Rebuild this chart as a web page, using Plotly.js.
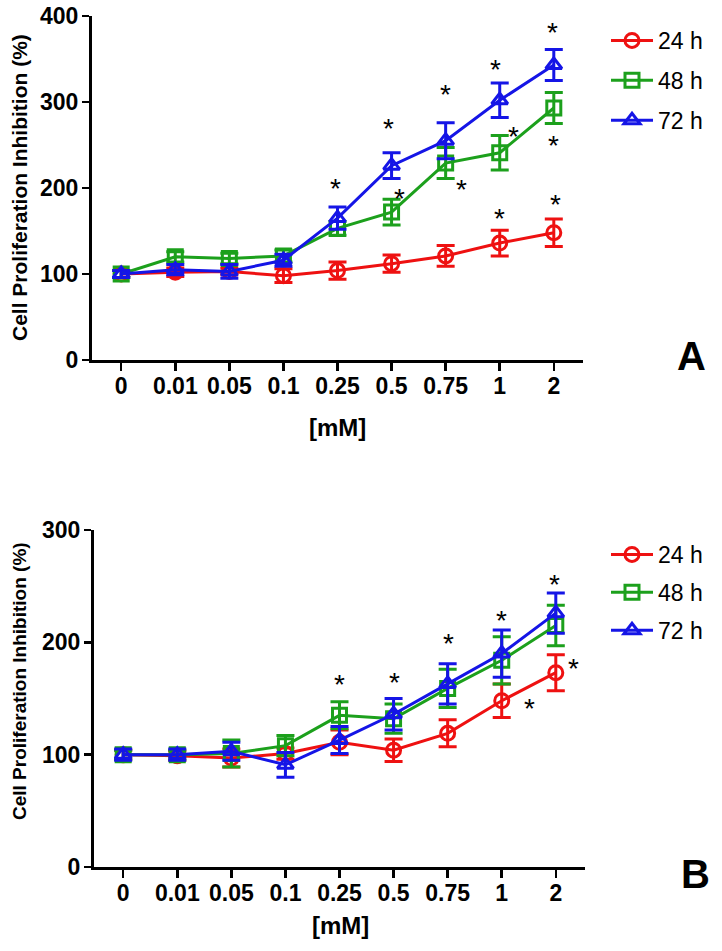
<!DOCTYPE html>
<html>
<head>
<meta charset="utf-8">
<script src="https://cdn.plot.ly/plotly-3.0.1.min.js"></script>
<style>html,body{margin:0;padding:0;background:#fff;}#chart{width:722px;height:951px;}</style>
</head>
<body>
<div id="chart"></div>
<script>
const doses = ['0', '0.01', '0.05', '0.1', '0.25', '0.5', '0.75', '1', '2'];
const seriesNames = ['24 h', '48 h', '72 h'];
const seriesColors = ['#ee1111', '#1ca01c', '#1515e6'];
const seriesSymbols = ['circle-open', 'square-open', 'triangle-up-open'];

// Panel A
const a24 = [100, 102, 103, 98, 104, 112, 121, 136, 148];
const a24err = [4, 5, 4, 8, 10, 10, 12, 15, 16];
const a48 = [100, 120, 118, 121, 153, 172, 229, 241, 293];
const a48err = [4, 6, 6, 7, 8, 15, 18, 20, 18];
const a72 = [100, 105, 103, 116, 165, 226, 255, 302, 343];
const a72err = [4, 6, 8, 7, 13, 15, 21, 20, 18];

// Panel B
const b24 = [100, 99, 97, 101, 111, 104, 119, 148, 173];
const b24err = [4, 4, 8, 5, 11, 10, 12, 15, 16];
const b48 = [100, 100, 101, 108, 135, 132, 159, 184, 215];
const b48err = [4, 4, 12, 9, 12, 13, 17, 21, 18];
const b72 = [100, 100, 103, 91, 113, 136, 163, 190, 226];
const b72err = [5, 5, 8, 11, 12, 14, 18, 21, 18];

// Significance asterisks (category index, value)
const starsAx = [3.96, 4.94, 5.14, 6.0, 6.3, 6.93, 7.26, 6.99, 7.97, 8.0, 8.04];
const starsAy = [206, 276, 195, 316, 205, 345, 267, 171, 388, 256, 188];
const starsBx = [4.0, 5.02, 6.01, 7.0, 7.52, 7.98, 8.33];
const starsBy = [168, 170, 204, 225, 146, 257, 182];

const yTitle = 'Cell Proliferation Inhibition (%)';
const xTitle = '[mM]';
const FONT = 'Liberation Sans, Arial, Helvetica, sans-serif';
const W = 722, H = 951;

function mk(y, err, i, xa, ya, leg) {
  return {
    x: doses, y: y, type: 'scatter', mode: 'lines+markers',
    name: seriesNames[i], xaxis: xa, yaxis: ya, legend: leg, legendgroup: leg + i,
    line: {color: seriesColors[i], width: 3},
    marker: {symbol: seriesSymbols[i], size: 14, color: seriesColors[i], line: {width: 3, color: seriesColors[i]}},
    error_y: {type: 'data', array: err, visible: true, color: seriesColors[i], thickness: 3, width: 9}
  };
}

const data = [
  mk(a24, a24err, 0, 'x', 'y', 'legend'),
  mk(a48, a48err, 1, 'x', 'y', 'legend'),
  mk(a72, a72err, 2, 'x', 'y', 'legend'),
  mk(b24, b24err, 0, 'x2', 'y2', 'legend2'),
  mk(b48, b48err, 1, 'x2', 'y2', 'legend2'),
  mk(b72, b72err, 2, 'x2', 'y2', 'legend2')
];

const px = v => v / W;
const py = v => 1 - v / H;

function xaxisDef(l, r, anchor) {
  return {
    domain: [px(l), px(r)], anchor: anchor, type: 'category', range: [-0.54, 8.54],
    showline: true, linecolor: '#000', linewidth: 3, mirror: false,
    ticks: 'outside', ticklen: 8, tickwidth: 2.5, tickcolor: '#000', ticklabelstandoff: -5,
    showgrid: false, zeroline: false, fixedrange: true,
    tickfont: {family: FONT, size: 23, color: '#000', weight: 'bold'}
  };
}
function yaxisDef(t, b, anchor, max, dt) {
  return {
    domain: [py(b), py(t)], anchor: anchor, range: [0, max], dtick: dt, tick0: 0,
    showline: true, linecolor: '#000', linewidth: 3,
    ticks: 'outside', ticklen: 7, tickwidth: 2.5, tickcolor: '#000', ticklabelstandoff: -1,
    showgrid: false, zeroline: false, fixedrange: true,
    tickfont: {family: FONT, size: 23, color: '#000', weight: 'bold'}
  };
}

const annotations = [];
function star(xa, ya, x, y) {
  annotations.push({xref: xa, yref: ya, x: x, y: y, text: '*', showarrow: false,
    font: {family: FONT, size: 28, color: '#000'}, yanchor: 'middle', xanchor: 'center', yshift: -6});
}
starsAx.forEach((x, i) => star('x', 'y', x, starsAy[i]));
starsBx.forEach((x, i) => star('x2', 'y2', x, starsBy[i]));

function paperText(x, y, text, size, bold, angle) {
  annotations.push({xref: 'paper', yref: 'paper', x: px(x), y: py(y), text: text, showarrow: false,
    xanchor: 'center', yanchor: 'middle', textangle: angle || 0,
    font: {family: FONT, size: size, color: '#000', weight: bold ? 'bold' : 'normal'}});
}
paperText(19, 188, yTitle, 21, true, -90);
paperText(19, 681, yTitle, 19, true, -90);
paperText(337, 427, xTitle, 24, true);
paperText(340, 925, xTitle, 24, true);
paperText(691, 356, 'A', 40, true);
paperText(695, 874, 'B', 40, true);

const legendBase = {
  xanchor: 'left', yanchor: 'top', bgcolor: 'rgba(0,0,0,0)', borderwidth: 0,
  font: {family: FONT, size: 23, color: '#000'}, itemwidth: 42, traceorder: 'grouped'
};

const layout = {
  width: W, height: H, margin: {l: 0, r: 0, t: 0, b: 0},
  paper_bgcolor: '#fff', plot_bgcolor: '#fff', showlegend: true,
  xaxis: xaxisDef(92, 583, 'y'),
  yaxis: yaxisDef(16, 360, 'x', 400, 100),
  xaxis2: xaxisDef(94, 585, 'y2'),
  yaxis2: yaxisDef(530, 867, 'x2', 300, 100),
  legend: Object.assign({}, legendBase, {x: px(606), y: py(19), tracegroupgap: 7}),
  legend2: Object.assign({}, legendBase, {x: px(606), y: py(533), tracegroupgap: 5}),
  annotations: annotations
};

Plotly.newPlot('chart', data, layout, {displayModeBar: false, staticPlot: true});
</script>
</body>
</html>
